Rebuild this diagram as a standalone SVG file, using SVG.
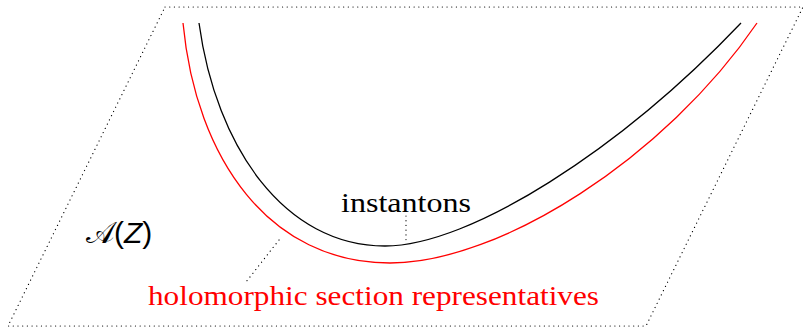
<svg xmlns="http://www.w3.org/2000/svg" width="807" height="328" viewBox="0 0 807 328">
<style>
.dot{fill:none;stroke:#000;stroke-width:1.2;stroke-dasharray:0.1 4.6;stroke-linecap:round}
.curve{fill:none;stroke-width:1.3}
.serif{font-family:"Liberation Serif","DejaVu Serif",serif}
</style>
<rect width="807" height="328" fill="#fff"/>
<g id="space">
<path class="dot" d="M165,7 L803,7 L646,326 L8,326 Z"/>
<text x="86" y="243" font-family="'DejaVu Serif','Noto Sans',serif" font-size="30" fill="#000">𝒜<tspan font-family="'Liberation Sans',sans-serif">(</tspan><tspan font-family="'Liberation Sans',sans-serif" font-style="italic">Z</tspan><tspan font-family="'Liberation Sans',sans-serif">)</tspan></text>
</g>
<g id="instantons">
<path class="curve" stroke="#000" d="M199,23 C216,148 285,246 385,246 C470,246 620,150 741,23"/>
<text class="serif" x="406" y="212" font-size="28" text-anchor="middle" textLength="130" lengthAdjust="spacingAndGlyphs">instantons</text>
</g>
<g id="holomorphic">
<path class="curve" stroke="#f00" d="M183,23 C196,160 270,263 390,263 C500,263 665,158 757,23"/>
<text class="serif" x="373.5" y="305" font-size="28" fill="#f00" text-anchor="middle" textLength="451" lengthAdjust="spacingAndGlyphs">holomorphic section representatives</text>
</g>
<g id="connectors">
<line class="dot" x1="406" y1="216" x2="406" y2="243"/>
<line class="dot" x1="279" y1="240" x2="246" y2="282"/>
</g>
</svg>
